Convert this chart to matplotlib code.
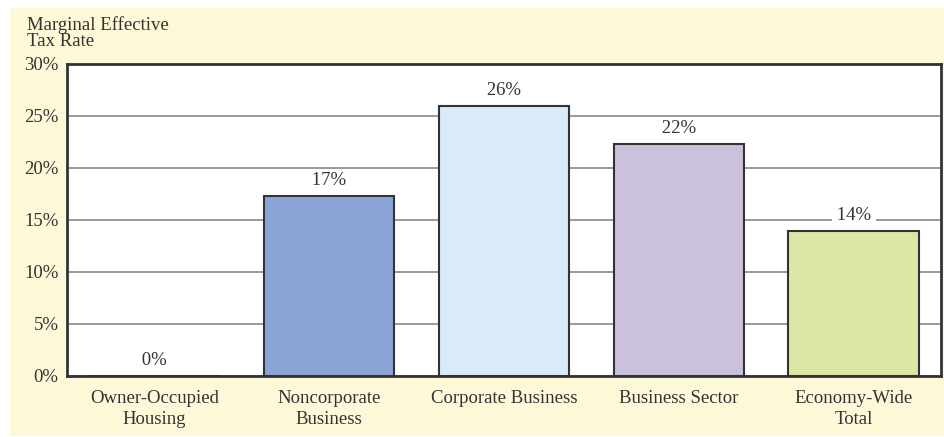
import numpy as np
import matplotlib.pyplot as plt
from matplotlib.patches import Rectangle

# data
categories = ['Owner-Occupied\nHousing', 'Noncorporate\nBusiness', 'Corporate Business',
              'Business Sector', 'Economy-Wide\nTotal']
values = [0.0, 17.3, 26.0, 22.3, 13.9]
labels = ['0%', '17%', '26%', '22%', '14%']
colors = ['#ffffff', '#8aa5d5', '#d9ebf9', '#cbc1dc', '#dde6a5']
yticks = [0, 5, 10, 15, 20, 25, 30]

plt.rcParams['font.family'] = ['Liberation Serif', 'DejaVu Serif']
fs = 13.5

fig = plt.figure(figsize=(9.44, 4.37), dpi=100)
# pale yellow panel behind the chart
fig.patches.append(Rectangle((10/944, 1/437), 934/944, 428/437, transform=fig.transFigure,
                             facecolor='#fdf9d8', edgecolor='none', zorder=-10))

ax = fig.add_axes([67/944, 61/437, 874/944, 312/437])
ax.set_zorder(1)
ax.set_facecolor('white')
x = np.arange(len(categories))
ax.bar(x, values, width=0.745, color=colors, edgecolor='#333333', linewidth=1.5, zorder=3)
for xi, v, lab in zip(x, values, labels):
    # spaces widen the white box so the gridline breaks around the label
    ax.annotate(' ' + lab + ' ', (xi, v), xytext=(0, 5), textcoords='offset points', ha='center',
                va='bottom', fontsize=fs, color='#333333', zorder=4,
                bbox=dict(facecolor='white', edgecolor='none', pad=0))

ax.set_xlim(-0.5, 4.5)
ax.set_ylim(0, 30)
ax.set_yticks(yticks)
ax.set_yticklabels(['%d%%' % t for t in yticks], fontsize=fs, color='#333333')
ax.set_xticks(x)
ax.set_xticklabels(categories, fontsize=fs, color='#333333', linespacing=1.35)
ax.tick_params(length=0, pad=6)
ax.tick_params(axis='x', pad=10)
ax.yaxis.grid(True, color='#888888', linewidth=1.2, zorder=1)
ax.set_axisbelow(True)
for s in ax.spines.values():
    s.set_color('#333333')
    s.set_linewidth(2)

fig.text(27/944, 1 - 16/437, 'Marginal Effective\nTax Rate', fontsize=fs, color='#333333',
         va='top', ha='left', linespacing=0.9)

fig.savefig('out.png', dpi=100)
